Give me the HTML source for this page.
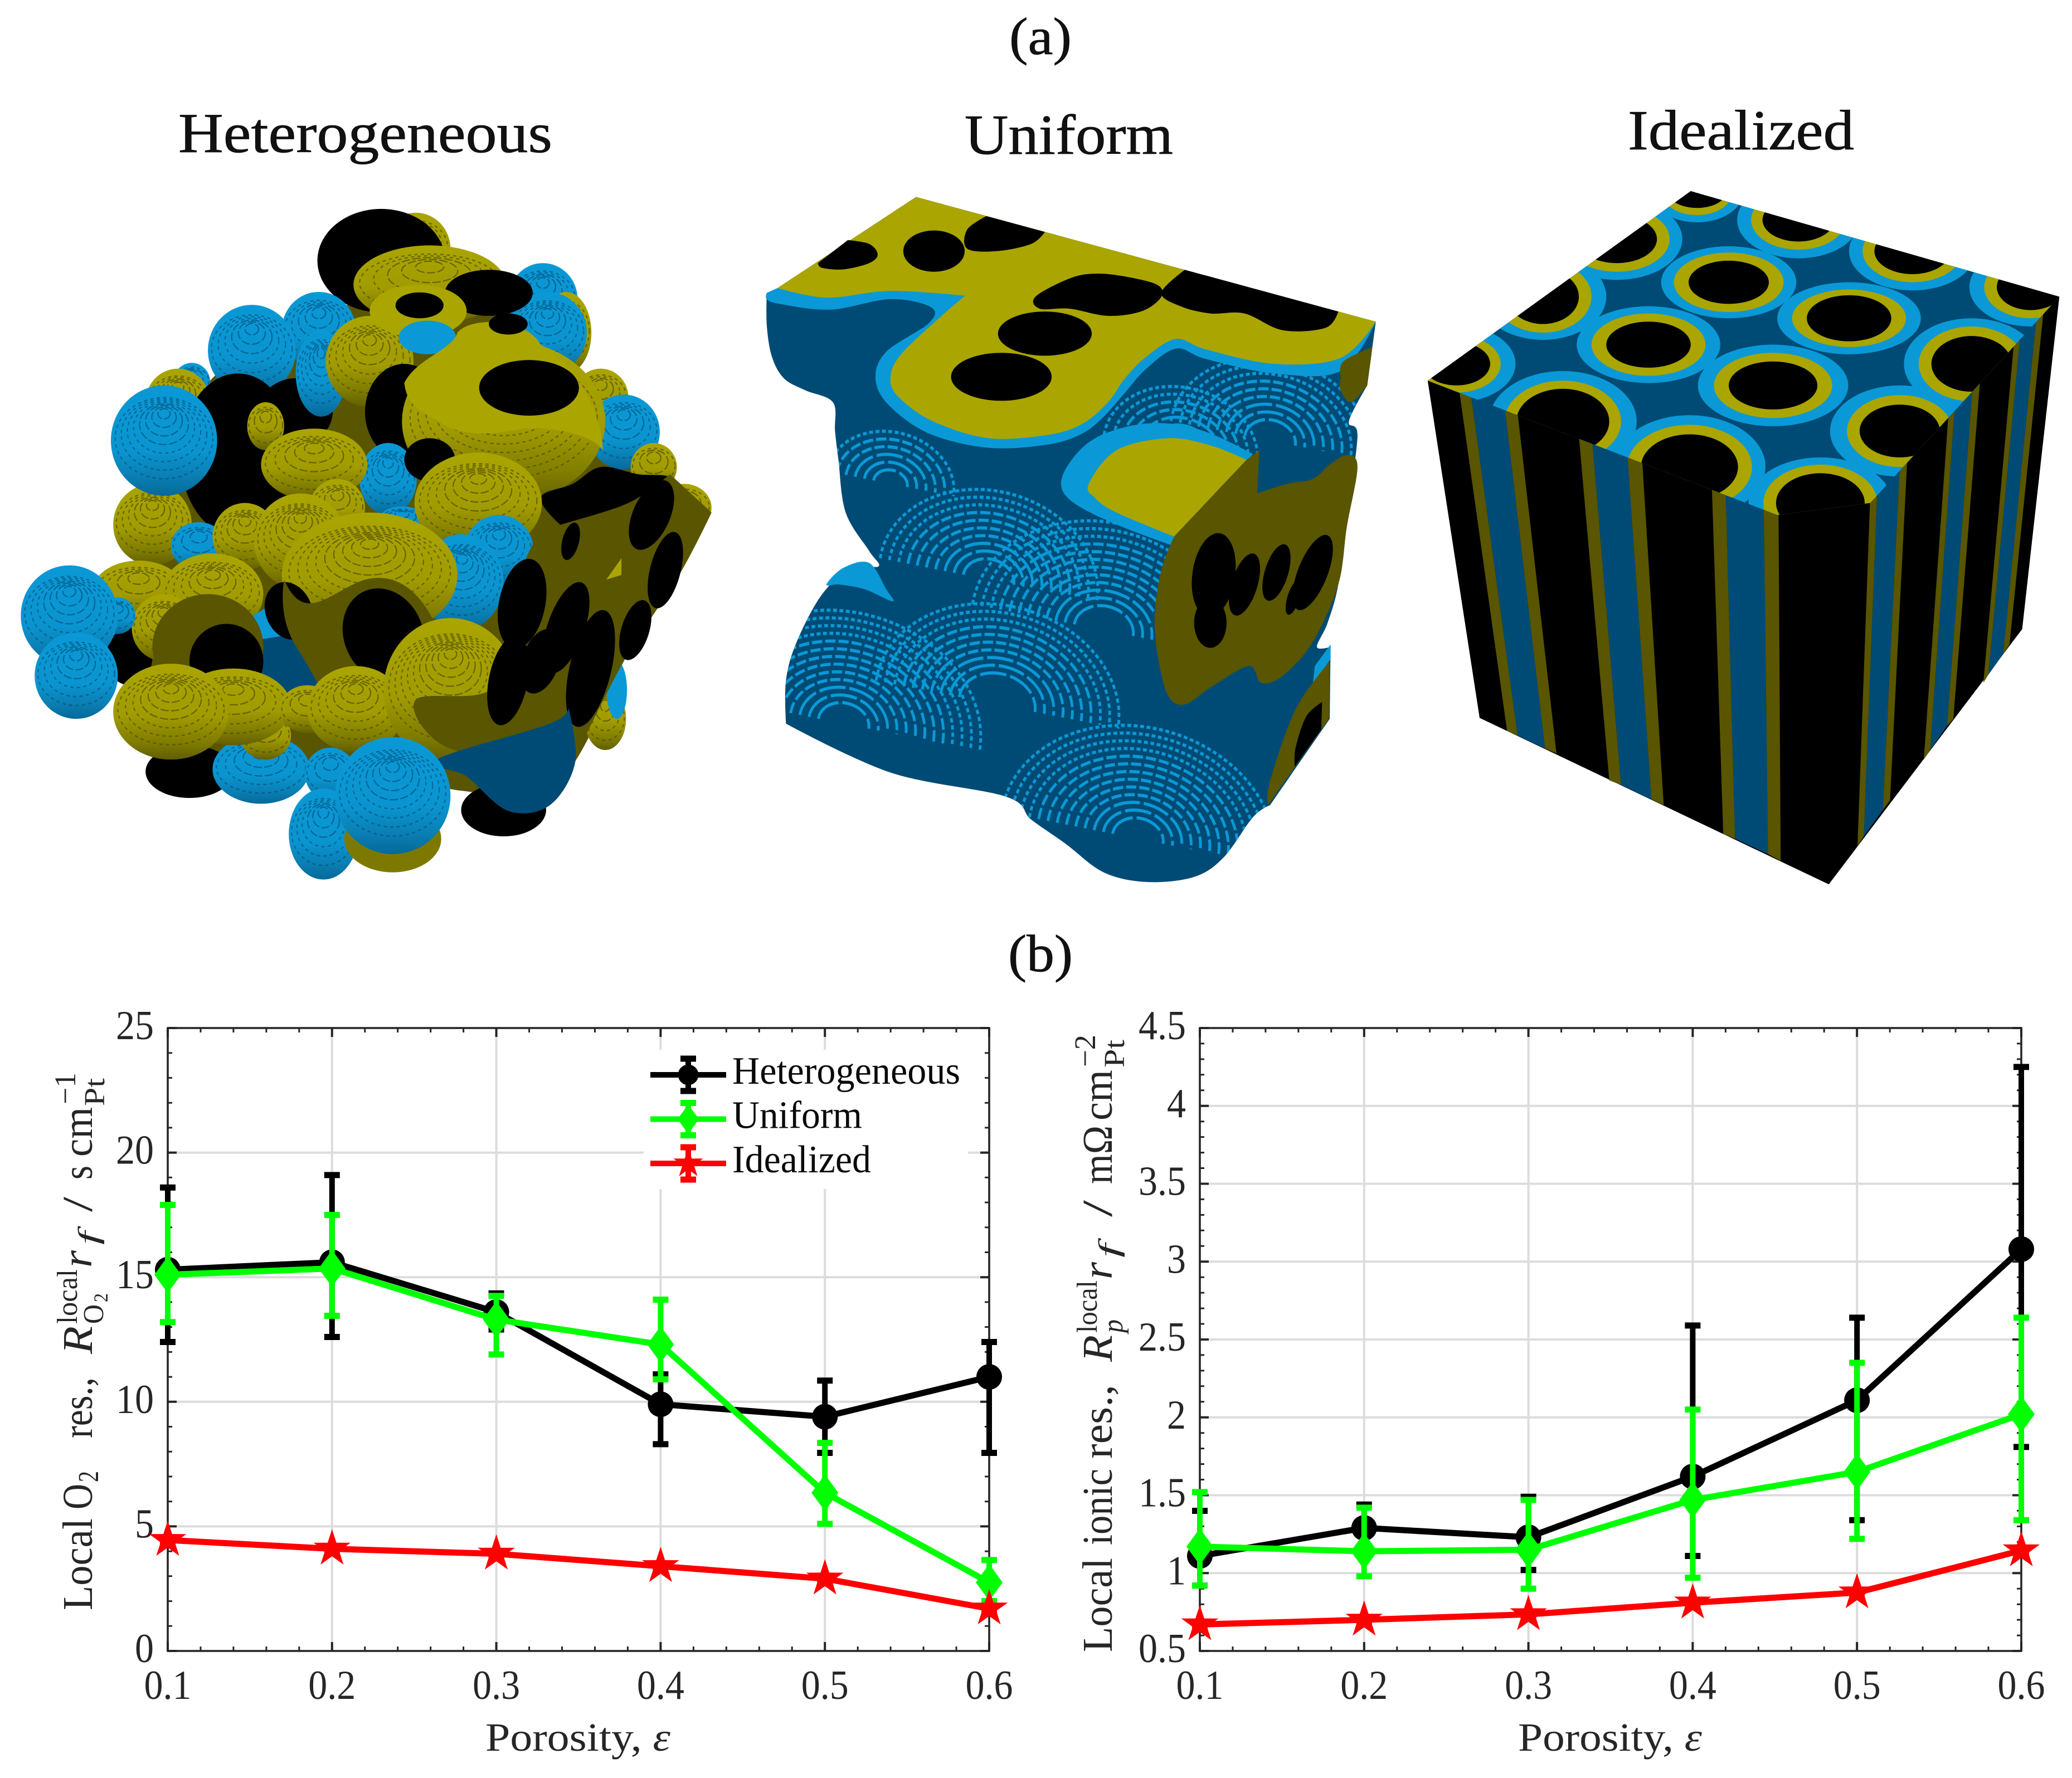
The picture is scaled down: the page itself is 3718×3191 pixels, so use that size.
<!DOCTYPE html>
<html lang="en"><head><meta charset="utf-8"><title>Porous electrode structures and local resistances</title>
<style>
html,body{margin:0;padding:0;background:#fff}
#page{display:block}
text{font-family:"Liberation Serif",serif;fill:#262626}
.title{fill:#111;stroke:#111;stroke-width:.8}
.sp.b{fill:url(#gB)}.sp.o{fill:url(#gO)}
.k{fill:#000}.fo{fill:#aaa500}.do{fill:#595500}.lb{fill:#0a99d6}.db{fill:#004b75}
</style></head><body>
<svg id="page" xmlns="http://www.w3.org/2000/svg" width="3718" height="3191" viewBox="0 0 3718 3191">
<defs>
<linearGradient id="gB" x1="0" y1="0" x2="0" y2="1"><stop offset="0" stop-color="#0a99d6"/><stop offset=".6" stop-color="#0a94cf"/><stop offset=".82" stop-color="#0a7fb4"/><stop offset="1" stop-color="#06699a"/></linearGradient>
<linearGradient id="gO" x1="0" y1="0" x2="0" y2="1"><stop offset="0" stop-color="#aaa500"/><stop offset=".55" stop-color="#a09b00"/><stop offset=".82" stop-color="#807c00"/><stop offset="1" stop-color="#625e00"/></linearGradient>
<clipPath id="cubeTop"><polygon points="665,50 1538,270 1090,700 870,725 42,445"/></clipPath>
<clipPath id="uClip"><use href="#uBody"/></clipPath>
</defs>
<rect x="0" y="0" width="3718" height="3191" fill="#fff"/>

<text class="title" x="1811" y="97" font-size="94" textLength="112" lengthAdjust="spacingAndGlyphs">(a)</text>
<text class="title" x="320" y="273" font-size="102" textLength="671" lengthAdjust="spacingAndGlyphs">Heterogeneous</text>
<text class="title" x="1731" y="276" font-size="102" textLength="374" lengthAdjust="spacingAndGlyphs">Uniform</text>
<text class="title" x="2921" y="268" font-size="102" textLength="406" lengthAdjust="spacingAndGlyphs">Idealized</text>
<text class="title" x="1809" y="1743" font-size="94" textLength="116" lengthAdjust="spacingAndGlyphs">(b)</text>

<!-- Heterogeneous voxel structure -->
<svg x="0" y="300" width="1300" height="1350" viewBox="0 0 1568 1568" preserveAspectRatio="none">
<path class="do sm" d="M450,450L700,300L1100,270L1300,480L1480,720L1350,1030L1200,1290L1000,1300L800,1250L500,1230L300,1180L280,950L350,800L320,700"/>
<g>
<circle class="sp o" cx="900" cy="170" r="75"/>
<ellipse class="k" cx="825" cy="195" rx="138" ry="108"/>
<ellipse class="sp o" cx="930" cy="245" rx="165" ry="82"/>
<circle class="sp b" cx="1175" cy="275" r="75"/>
<ellipse class="sp o" cx="1225" cy="345" rx="55" ry="85"/>
<circle class="sp b" cx="1185" cy="345" r="85"/>
<ellipse class="k" cx="1058" cy="262" rx="95" ry="48"/>
<circle class="sp b" cx="690" cy="340" r="80"/>
<circle class="sp b" cx="545" cy="382" r="95"/>
<circle class="sp b" cx="415" cy="448" r="40"/>
<circle class="sp o" cx="385" cy="490" r="70"/>
<ellipse class="k" cx="515" cy="600" rx="125" ry="170"/>
<ellipse class="k" cx="640" cy="510" rx="80" ry="70"/>
<circle class="sp o" cx="330" cy="745" r="85"/>
<circle class="sp b" cx="355" cy="570" r="115"/>
<ellipse class="sp b" cx="695" cy="430" rx="55" ry="90"/>
</g>
<g>
<circle class="sp o" cx="800" cy="405" r="95"/>
<ellipse class="fo" cx="905" cy="300" rx="105" ry="55"/>
<ellipse class="lb" cx="925" cy="355" rx="62" ry="35"/>
<ellipse class="k" cx="908" cy="288" rx="52" ry="27"/>
<ellipse class="k" cx="875" cy="510" rx="85" ry="100"/>
<circle class="sp o" cx="1300" cy="480" r="60"/>
<circle class="sp b" cx="1350" cy="552" r="78"/>
<circle class="sp o" cx="1415" cy="625" r="50"/>
<ellipse class="sp o" cx="1090" cy="530" rx="220" ry="170"/>
<path class="fo" d="M875,450C900,400 980,380 990,345C1020,310 1140,315 1170,370C1240,410 1300,500 1305,590C1280,555 1190,540 1130,545C1060,560 990,560 950,530C900,505 880,490 875,450Z"/>
<ellipse class="k" cx="1145" cy="460" rx="108" ry="58"/>
<ellipse class="k" cx="1100" cy="327" rx="42" ry="22"/>
<path class="k sm" d="M1170,690L1240,660L1300,625L1380,640L1455,650L1445,720L1420,780L1380,820L1310,800L1230,760"/>
<ellipse class="sp b" cx="840" cy="650" rx="62" ry="75"/>
<ellipse class="sp b" cx="870" cy="735" rx="50" ry="28"/>
<ellipse class="k" cx="930" cy="610" rx="55" ry="45"/>
<ellipse class="sp o" cx="1035" cy="700" rx="138" ry="105"/>
<ellipse class="sp o" cx="575" cy="540" rx="40" ry="50"/>
<ellipse class="sp o" cx="680" cy="620" rx="115" ry="75"/>
</g>
<g>
<ellipse class="sp b" cx="430" cy="790" rx="60" ry="50"/>
<circle class="sp b" cx="1080" cy="800" r="75"/>
<ellipse class="sp b" cx="1000" cy="865" rx="90" ry="100"/>
<circle class="sp o" cx="730" cy="710" r="60"/>
<circle class="sp o" cx="530" cy="770" r="70"/>
<circle class="sp o" cx="650" cy="780" r="100"/>
<ellipse class="sp o" cx="800" cy="850" rx="190" ry="130"/>
<ellipse class="k" cx="280" cy="1020" rx="50" ry="60"/>
<ellipse class="sp o" cx="300" cy="885" rx="100" ry="65"/>
<ellipse class="sp o" cx="460" cy="890" rx="110" ry="85"/>
<circle class="sp o" cx="355" cy="960" r="70"/>
<circle class="sp b" cx="255" cy="935" r="38"/>
<circle class="sp b" cx="150" cy="935" r="105"/>
<circle class="sp b" cx="165" cy="1060" r="90"/>
<path class="db" d="M505,960L590,910L690,1080L660,1150L545,1110Z"/>
<path class="lb" d="M505,960L590,910L625,975L560,985Z"/>
<ellipse class="db" cx="430" cy="1060" rx="85" ry="55"/>
<ellipse class="do" cx="450" cy="1000" rx="120" ry="110"/>
<ellipse class="k" cx="490" cy="1030" rx="80" ry="78"/>
<ellipse class="k" cx="625" cy="925" rx="50" ry="62" transform="rotate(-25 625 925)"/>
<path class="do" d="M615,860C660,960 720,880 790,860C870,840 930,900 965,1010C900,1070 800,1100 720,1070C640,1030 600,950 615,860Z"/>
<ellipse class="k" cx="830" cy="975" rx="85" ry="100" transform="rotate(-28 830 975)"/>
</g>
<g>
<ellipse class="k" cx="410" cy="1260" rx="95" ry="55"/>
<ellipse class="sp b" cx="565" cy="1255" rx="105" ry="72"/>
<ellipse class="sp o" cx="575" cy="1185" rx="55" ry="50"/>
<ellipse class="sp o" cx="505" cy="1125" rx="125" ry="80"/>
<ellipse class="sp o" cx="370" cy="1135" rx="125" ry="100"/>
<ellipse class="sp o" cx="665" cy="1130" rx="60" ry="50"/>
<ellipse class="sp o" cx="770" cy="1130" rx="105" ry="90"/>
<ellipse class="sp o" cx="975" cy="1090" rx="145" ry="150"/>
<ellipse class="sp o" cx="1310" cy="1150" rx="45" ry="65"/>
<ellipse class="lb" cx="1335" cy="1090" rx="22" ry="60"/>
</g>
<g>
<ellipse class="sp o" cx="1480" cy="710" rx="60" ry="50"/>
<path class="do sm" d="M1120,860L1170,760L1215,745L1360,700L1450,640L1450,640L1540,720L1540,720L1470,850L1350,1030L1240,1240L1240,1240L1200,1225L1100,1240L950,1200L900,1110L1060,1090L1100,960"/>
<g class="k">
<ellipse cx="1130" cy="910" rx="50" ry="95" transform="rotate(12 1130 910)"/>
<ellipse cx="1225" cy="960" rx="40" ry="100" transform="rotate(20 1225 960)"/>
<ellipse cx="1100" cy="1070" rx="42" ry="95" transform="rotate(12 1100 1070)"/>
<ellipse cx="1170" cy="1030" rx="40" ry="70" transform="rotate(20 1170 1030)"/>
<ellipse cx="1278" cy="1045" rx="45" ry="125" transform="rotate(14 1278 1045)"/>
<ellipse cx="1375" cy="965" rx="30" ry="65" transform="rotate(18 1375 965)"/>
<ellipse cx="1440" cy="840" rx="33" ry="82" transform="rotate(15 1440 840)"/>
<ellipse cx="1410" cy="725" rx="40" ry="78" transform="rotate(25 1410 725)"/>
<ellipse cx="1235" cy="780" rx="18" ry="40" transform="rotate(15 1235 780)"/>
</g>
<polygon class="fo" points="1312,860 1345,815 1345,850"/>
</g>
<g>
<ellipse class="k" cx="1090" cy="1340" rx="92" ry="55"/>
<path class="db sm" d="M945,1235L1190,1160L1230,1125L1230,1125L1245,1240L1190,1330L1100,1342L1010,1270"/>
<circle class="sp b" cx="715" cy="1265" r="55"/>
<ellipse class="sp b" cx="700" cy="1390" rx="75" ry="95"/>
<ellipse cx="850" cy="1400" rx="105" ry="70" style="fill:#7d7900"/>
<ellipse class="sp b" cx="850" cy="1310" rx="125" ry="122"/>
</g>
</svg>

<!-- Uniform voxel structure -->
<svg x="1330" y="300" width="1200" height="1350" viewBox="0 0 1568 1568" preserveAspectRatio="none">
<path id="uBody" class="db sm" d="M60,262L60,262L60,330L72,395L100,440L150,465L215,490L220,550L228,610L245,720L300,800L322,832L260,835L190,890L130,990L105,1070L105,1160L105,1160L350,1262L620,1312L680,1360L760,1410L850,1470L950,1490L1060,1480L1130,1440L1200,1355L1240,1330L1240,1330L1380,1150L1380,1150L1382,1000L1382,1000L1350,1000L1375,950L1400,870L1420,730L1445,560L1425,530L1468,455L1468,455L1488,322L1488,322"/>
<g id="uArcs" clip-path="url(#uClip)"></g>
<path class="lb sm" d="M200,870L240,835L300,825L340,880L355,905L290,880L230,870"/>
<path class="lb" d="M1345,1040L1382,995L1382,1025L1340,1080Z"/>
<path class="lb sm" d="M60,262L60,262L85,252L85,252L410,62L410,62L1488,322L1488,322L1405,425L1250,430L1090,400L1020,378L950,420L900,470L850,520L800,555L720,578L580,585L440,555L345,495L315,440L340,385L440,325L445,292L350,275L210,297L90,285L60,275"/>
<path class="fo sm" d="M410,62L410,62L1488,322L1488,322L1405,398L1250,410L1090,380L1020,358L950,395L900,440L860,490L800,535L720,558L580,565L450,530L370,480L350,440L375,390L470,310L525,268L525,268L350,258L200,272L85,252L85,252"/>
<g class="k">
<path class="sm" d="M180,200L180,200L250,152L250,152L300,160L320,182L300,200L240,213L190,210"/>
<ellipse cx="452" cy="175" rx="72" ry="43"/>
<path class="sm" d="M530,130L575,102L575,102L712,135L712,135L680,160L600,175L530,170"/>
<ellipse cx="610" cy="437" rx="118" ry="50"/>
<ellipse cx="712" cy="347" rx="110" ry="46"/>
<path class="sm" d="M690,270L770,232L830,222L900,228L975,245L985,270L940,300L860,310L770,295L700,295"/>
<path class="sm" d="M985,262L1040,214L1040,214L1400,301L1400,301L1370,335L1270,340L1180,305L1100,305L1030,290"/>
</g>
<path class="lb sm" d="M750,660L775,610L830,565L920,538L1010,535L1100,555L1200,598L1200,598L1015,790L1015,790L880,745L780,700"/>
<path class="fo sm" d="M815,660L880,590L1000,565L1100,580L1185,610L1185,610L1015,770L1015,770L880,720L830,690"/>
<path class="do sm" d="M1015,770L1015,770L1185,610L1185,610L1215,590L1215,590L1210,680L1210,680L1280,660L1340,650L1380,620L1420,600L1445,625L1420,750L1400,870L1340,990L1270,1060L1220,1075L1190,1040L1100,1085L1040,1120L1000,1100L975,1010L970,930L985,840"/>
<g class="k">
<ellipse cx="1108" cy="850" rx="50" ry="88" transform="rotate(10 1108 850)"/>
<ellipse cx="1100" cy="950" rx="38" ry="52"/>
<ellipse cx="1180" cy="870" rx="30" ry="68" transform="rotate(20 1180 870)"/>
<ellipse cx="1255" cy="845" rx="27" ry="62" transform="rotate(20 1255 845)"/>
<ellipse cx="1340" cy="845" rx="34" ry="85" transform="rotate(25 1340 845)"/>
<ellipse cx="1295" cy="897" rx="14" ry="38" transform="rotate(20 1295 897)"/>
</g>
<path class="do sm" d="M1405,440L1412,405L1480,375L1480,375L1468,455L1468,455L1430,490L1405,465"/>
<path class="do sm" d="M1380,1030L1380,1030L1378,1150L1378,1150L1235,1330L1235,1330L1240,1280L1300,1130"/>
<path class="k sm" d="M1362,1115L1362,1115L1360,1172L1360,1172L1298,1250L1298,1250L1300,1210L1325,1145"/>
</svg>

<!-- Idealized voxel structure -->
<svg x="2530" y="300" width="1188" height="1350" viewBox="0 0 1568 1568" preserveAspectRatio="none">
<polygon class="k" points="665,50 1538,270 1450,963 992,1495 165,1148 42,445"/>
<g>
<polygon class="do" points="117,467 145,477 255,1185 230,1175"/>
<polygon class="db" points="145,477 225,505 320,1212 255,1185"/>
<polygon class="do" points="225,505 255,512 347,1222 320,1212"/>
<polygon class="do" points="400,560 432,572 500,1288 472,1278"/>
<polygon class="db" points="432,572 515,600 572,1318 500,1288"/>
<polygon class="do" points="515,600 550,610 601,1330 572,1318"/>
<polygon class="do" points="715,665 748,680 770,1400 742,1390"/>
<polygon class="db" points="748,680 838,712 848,1432 770,1400"/>
<polygon class="do" points="838,712 873,722 878,1446 848,1432"/>
</g>
<g>
<polygon class="do" points="1090,688 1107,670 1075,1395 1060,1415"/>
<polygon class="db" points="1107,670 1160,625 1120,1340 1075,1395"/>
<polygon class="do" points="1160,625 1178,605 1137,1320 1120,1340"/>
<polygon class="do" points="1275,520 1290,505 1232,1215 1217,1235"/>
<polygon class="db" points="1290,505 1332,465 1272,1165 1232,1215"/>
<polygon class="do" points="1332,465 1350,448 1287,1150 1272,1165"/>
<polygon class="do" points="1430,370 1445,355 1370,1058 1358,1075"/>
<polygon class="db" points="1445,355 1483,320 1405,1015 1370,1058"/>
<polygon class="do" points="1483,320 1500,305 1420,995 1405,1015"/>
</g>
<g clip-path="url(#cubeTop)">
<polygon class="db" points="665,50 1538,270 1090,700 870,725 42,445"/>
<g class="lb">
<ellipse cx="755" cy="240" rx="160" ry="75"/><ellipse cx="1040" cy="315" rx="170" ry="75"/><ellipse cx="565" cy="370" rx="170" ry="80"/><ellipse cx="860" cy="455" rx="178" ry="85"/>
<ellipse cx="920" cy="110" rx="145" ry="80"/><ellipse cx="1190" cy="175" rx="150" ry="82"/><ellipse cx="1470" cy="250" rx="145" ry="82"/>
<ellipse cx="680" cy="50" rx="110" ry="65"/><ellipse cx="490" cy="150" rx="155" ry="85"/><ellipse cx="315" cy="270" rx="150" ry="90"/><ellipse cx="110" cy="410" rx="140" ry="80"/>
<ellipse cx="362" cy="530" rx="175" ry="105"/><ellipse cx="662" cy="625" rx="180" ry="108"/><ellipse cx="972" cy="700" rx="170" ry="95"/><ellipse cx="1160" cy="550" rx="165" ry="95"/><ellipse cx="1330" cy="410" rx="160" ry="95"/>
</g>
<g class="fo">
<ellipse cx="755" cy="240" rx="130" ry="62"/><ellipse cx="1040" cy="315" rx="135" ry="60"/><ellipse cx="565" cy="370" rx="135" ry="65"/><ellipse cx="860" cy="455" rx="140" ry="68"/>
<ellipse cx="920" cy="110" rx="112" ry="62"/><ellipse cx="1190" cy="175" rx="118" ry="65"/><ellipse cx="1470" cy="250" rx="110" ry="65"/>
<ellipse cx="680" cy="50" rx="85" ry="50"/><ellipse cx="490" cy="150" rx="125" ry="68"/><ellipse cx="315" cy="270" rx="115" ry="75"/><ellipse cx="110" cy="410" rx="105" ry="60"/>
<ellipse cx="362" cy="530" rx="138" ry="85"/><ellipse cx="662" cy="625" rx="148" ry="88"/><ellipse cx="972" cy="700" rx="135" ry="80"/><ellipse cx="1160" cy="550" rx="125" ry="75"/><ellipse cx="1330" cy="410" rx="125" ry="78"/>
</g>
<g class="k">
<ellipse cx="755" cy="240" rx="95" ry="45"/><ellipse cx="1040" cy="315" rx="100" ry="48"/><ellipse cx="565" cy="370" rx="100" ry="48"/><ellipse cx="860" cy="455" rx="105" ry="50"/>
<ellipse cx="920" cy="110" rx="85" ry="45"/><ellipse cx="1190" cy="175" rx="90" ry="48"/><ellipse cx="1470" cy="250" rx="80" ry="48"/>
<ellipse cx="680" cy="50" rx="70" ry="35"/><ellipse cx="490" cy="150" rx="95" ry="50"/><ellipse cx="315" cy="270" rx="85" ry="57"/><ellipse cx="110" cy="410" rx="80" ry="45"/>
<ellipse cx="362" cy="530" rx="110" ry="68"/><ellipse cx="662" cy="625" rx="115" ry="68"/><ellipse cx="972" cy="700" rx="105" ry="62"/><ellipse cx="1160" cy="550" rx="95" ry="55"/><ellipse cx="1330" cy="410" rx="95" ry="58"/>
</g>
</g>
</svg>

<g id="chart-left"></g>
<g id="chart-right"></g>

<g font-size="76">
<text transform="translate(165,2890) rotate(-90)" textLength="165" lengthAdjust="spacingAndGlyphs">Local</text>
<text transform="translate(165,2709) rotate(-90)" textLength="46" lengthAdjust="spacingAndGlyphs">O</text>
<text transform="translate(176,2660) rotate(-90)" font-size="52" textLength="20" lengthAdjust="spacingAndGlyphs">2</text>
<text transform="translate(165,2581) rotate(-90)" textLength="109" lengthAdjust="spacingAndGlyphs">res.,</text>
<text transform="translate(165,2430) rotate(-90)" font-style="italic" textLength="50" lengthAdjust="spacingAndGlyphs">R</text>
<text transform="translate(138,2376) rotate(-90)" font-size="52" textLength="98" lengthAdjust="spacingAndGlyphs">local</text>
<text transform="translate(185,2376) rotate(-90)" font-size="52" textLength="35" lengthAdjust="spacingAndGlyphs">O</text>
<text transform="translate(193,2337) rotate(-90)" font-size="36" textLength="16" lengthAdjust="spacingAndGlyphs">2</text>
<text transform="translate(164,2275) rotate(-90)" font-style="italic" textLength="31" lengthAdjust="spacingAndGlyphs">r</text>
<text transform="translate(176,2234) rotate(-90)" font-size="52" font-style="italic" textLength="24" lengthAdjust="spacingAndGlyphs">f</text>
<text transform="translate(165,2175) rotate(-90)" textLength="27" lengthAdjust="spacingAndGlyphs">/</text>
<text transform="translate(165,2117) rotate(-90)" textLength="25" lengthAdjust="spacingAndGlyphs">s</text>
<text transform="translate(165,2076) rotate(-90)" textLength="89" lengthAdjust="spacingAndGlyphs">cm</text>
<text transform="translate(135,1982) rotate(-90)" font-size="54" textLength="57" lengthAdjust="spacingAndGlyphs">−1</text>
<text transform="translate(187,1985) rotate(-90)" font-size="52" textLength="50" lengthAdjust="spacingAndGlyphs">Pt</text>
</g>
<g font-size="76">
<text transform="translate(1995,2965) rotate(-90)" textLength="169" lengthAdjust="spacingAndGlyphs">Local</text>
<text transform="translate(1995,2773) rotate(-90)" textLength="137" lengthAdjust="spacingAndGlyphs">ionic</text>
<text transform="translate(1995,2618) rotate(-90)" textLength="133" lengthAdjust="spacingAndGlyphs">res.,</text>
<text transform="translate(1995,2444) rotate(-90)" font-style="italic" textLength="48" lengthAdjust="spacingAndGlyphs">R</text>
<text transform="translate(1968,2392) rotate(-90)" font-size="52" textLength="94" lengthAdjust="spacingAndGlyphs">local</text>
<text transform="translate(2014,2392) rotate(-90)" font-size="52" font-style="italic" textLength="24" lengthAdjust="spacingAndGlyphs">p</text>
<text transform="translate(1995,2296) rotate(-90)" font-style="italic" textLength="31" lengthAdjust="spacingAndGlyphs">r</text>
<text transform="translate(2007,2257) rotate(-90)" font-size="52" font-style="italic" textLength="25" lengthAdjust="spacingAndGlyphs">f</text>
<text transform="translate(1995,2184) rotate(-90)" textLength="30" lengthAdjust="spacingAndGlyphs">/</text>
<text transform="translate(1995,2125) rotate(-90)" textLength="105" lengthAdjust="spacingAndGlyphs">mΩ</text>
<text transform="translate(1995,2011) rotate(-90)" textLength="91" lengthAdjust="spacingAndGlyphs">cm</text>
<text transform="translate(1965,1915) rotate(-90)" font-size="54" textLength="58" lengthAdjust="spacingAndGlyphs">−2</text>
<text transform="translate(2017,1916) rotate(-90)" font-size="52" textLength="50" lengthAdjust="spacingAndGlyphs">Pt</text>
</g>
</svg>

<script>
// ---- chart data ----
const porosity = [0.1, 0.2, 0.3, 0.4, 0.5, 0.6];
const xTickLabels = ['0.1', '0.2', '0.3', '0.4', '0.5', '0.6'];
const o2TickLabels = ['0', '5', '10', '15', '20', '25'];
const ionicTickLabels = ['0.5', '1', '1.5', '2', '2.5', '3', '3.5', '4', '4.5'];

const o2HetValues = [15.3, 15.6, 13.6, 9.9, 9.4, 11.0];
const o2HetLow = [12.4, 12.6, 12.9, 8.3, 7.95, 7.95];
const o2HetHigh = [18.6, 19.1, 14.35, 11.1, 10.85, 12.4];
const o2UniValues = [15.1, 15.35, 13.3, 12.3, 6.35, 2.75];
const o2UniLow = [13.2, 13.45, 11.9, 10.9, 5.1, 2.0];
const o2UniHigh = [17.9, 17.5, 14.25, 14.1, 8.35, 3.65];
const o2IdeValues = [4.45, 4.1, 3.9, 3.4, 2.9, 1.7];
const o2IdeLow = [4.4, 4.05, 3.85, 3.35, 2.85, 1.65];
const o2IdeHigh = [4.5, 4.15, 3.95, 3.45, 2.95, 1.75];

const ionicHetValues = [1.11, 1.29, 1.23, 1.62, 2.11, 3.08];
const ionicHetLow = [0.92, 1.14, 1.02, 1.11, 1.34, 1.81];
const ionicHetHigh = [1.40, 1.44, 1.49, 2.59, 2.64, 4.25];
const ionicUniValues = [1.17, 1.14, 1.15, 1.47, 1.65, 2.02];
const ionicUniLow = [0.92, 0.98, 0.90, 0.97, 1.22, 1.34];
const ionicUniHigh = [1.52, 1.42, 1.47, 2.05, 2.35, 2.64];
const ionicIdeValues = [0.67, 0.70, 0.735, 0.81, 0.875, 1.145];
const ionicIdeLow = [0.66, 0.69, 0.725, 0.80, 0.865, 1.135];
const ionicIdeHigh = [0.68, 0.71, 0.745, 0.82, 0.885, 1.155];

const legendLabels = ['Heterogeneous', 'Uniform', 'Idealized'];

// ---- drawing ----
const NS = 'http://www.w3.org/2000/svg';
function mk(parent, tag, attrs, txt) {
  const el = document.createElementNS(NS, tag);
  for (const k in attrs) el.setAttribute(k, attrs[k]);
  if (txt !== undefined) el.textContent = txt;
  parent.appendChild(el);
  return el;
}
const TOP = 1845, BOTTOM = 2963;
const AXIS = '#262626', GRID = '#dcdcdc';

function drawMarker(g, kind, cx, cy, color, k) {
  let el;
  if (kind === 'circle') {
    el = mk(g, 'circle', {cx: cx, cy: cy, r: 23 * k, fill: color});
  } else if (kind === 'diamond') {
    const w = 24 * k, h = 33 * k;
    el = mk(g, 'polygon', {points: [cx, cy - h, cx + w, cy, cx, cy + h, cx - w, cy].join(','), fill: color});
  } else {
    const pts = [];
    for (let i = 0; i < 10; i++) {
      const r = (i % 2 ? 13.5 : 35) * k, a = -Math.PI / 2 + i * Math.PI / 5;
      pts.push((cx + r * Math.cos(a)).toFixed(1) + ',' + (cy + r * Math.sin(a)).toFixed(1));
    }
    el = mk(g, 'polygon', {points: pts.join(' '), fill: color});
  }
  
  
}

function drawErrorBar(g, x, yLo, yHi, color) {
  const bar = mk(g, 'path', {d: 'M' + x + ',' + yLo + 'V' + yHi, stroke: color, 'stroke-width': 10, fill: 'none'});
  
  
  const caps = mk(g, 'path', {d: 'M' + (x - 14) + ',' + yLo + 'H' + (x + 14) + 'M' + (x - 14) + ',' + yHi + 'H' + (x + 14), stroke: color, 'stroke-width': 11, fill: 'none'});
  
  
}

function drawSeries(root, name, sx, sy, xs, vals, lows, highs, color, kind) {
  const g = mk(root, 'g', {});
  
  
  xs.forEach((x, i) => drawErrorBar(g, sx(x), sy(lows[i]), sy(highs[i]), color));
  const line = mk(g, 'polyline', {points: xs.map((x, i) => sx(x) + ',' + sy(vals[i])).join(' '), fill: 'none', stroke: color, 'stroke-width': 11, 'stroke-linejoin': 'miter'});
  
  
  xs.forEach((x, i) => drawMarker(g, kind, sx(x), sy(vals[i]), color, 1));
}

function labelWidth(l) {
  return l.split('').reduce((w, c) => w + (c === '.' ? 17 : 34), 0);
}

function drawAxes(root, x0, x1, sx, sy, xLabels, yLabels, xMinorStep, yMinorStep, yMin, yMax, yStep, xTitleX, xTitleLen) {
  const grid = mk(root, 'g', {});
  
  
  xLabels.forEach(l => {
    const x = sx(parseFloat(l));
    const ln = mk(grid, 'line', {x1: x, x2: x, y1: TOP, y2: BOTTOM, stroke: GRID, 'stroke-width': 4});
    
    
  });
  yLabels.forEach(l => {
    const y = sy(parseFloat(l));
    const ln = mk(grid, 'line', {x1: x0, x2: x1, y1: y, y2: y, stroke: GRID, 'stroke-width': 4});
    
    
  });
  const ticks = mk(root, 'g', {stroke: AXIS, fill: 'none'});
  
  
  let dMajor = '', dMinor = '';
  for (let v = 0.1; v < 0.6005; v += xMinorStep) {
    const major = Math.abs(v * 10 - Math.round(v * 10)) < 1e-6;
    const x = sx(v).toFixed(1), len = major ? 16 : 8;
    const d = 'M' + x + ',' + BOTTOM + 'v' + (-len) + 'M' + x + ',' + TOP + 'v' + len;
    if (major) dMajor += d; else dMinor += d;
  }
  for (let v = yMin; v < yMax + 1e-6; v += yMinorStep) {
    const major = Math.abs((v - yMin) / yStep - Math.round((v - yMin) / yStep)) < 1e-6;
    const y = sy(v).toFixed(1), len = major ? 16 : 8;
    const d = 'M' + x0 + ',' + y + 'h' + len + 'M' + x1 + ',' + y + 'h' + (-len);
    if (major) dMajor += d; else dMinor += d;
  }
  mk(ticks, 'path', {d: dMajor, 'stroke-width': 4});
  mk(ticks, 'path', {d: dMinor, 'stroke-width': 3});
  const box = mk(root, 'rect', {x: x0, y: TOP, width: x1 - x0, height: BOTTOM - TOP, fill: 'none', stroke: AXIS, 'stroke-width': 3.5});
  
  
  xLabels.forEach(l => {
    const t = mk(root, 'text', {x: sx(parseFloat(l)) - labelWidth(l) / 2, y: 3049, 'font-size': 74, textLength: labelWidth(l), lengthAdjust: 'spacingAndGlyphs'}, l);
    
    
  });
  yLabels.forEach(l => {
    const t = mk(root, 'text', {x: x0 - 25 - labelWidth(l), y: sy(parseFloat(l)) + 20, 'font-size': 74, textLength: labelWidth(l), lengthAdjust: 'spacingAndGlyphs'}, l);
    
    
  });
  const title = mk(root, 'text', {x: xTitleX, y: 3142, 'font-size': 72, textLength: xTitleLen, lengthAdjust: 'spacingAndGlyphs'});
  
  
  mk(title, 'tspan', {}, 'Porosity, ');
  mk(title, 'tspan', {'font-style': 'italic'}, 'ε');
}

function xScale(x0, x1) { return v => x0 + (v - 0.1) / 0.5 * (x1 - x0); }
function yScale(lo, hi) { return v => BOTTOM - (v - lo) / (hi - lo) * (BOTTOM - TOP); }

// left chart
const leftRoot = document.getElementById('chart-left');
const sxL = xScale(301, 1775), syL = yScale(0, 25);
drawAxes(leftRoot, 301, 1775, sxL, syL, xTickLabels, o2TickLabels, 0.02, 1, 0, 25, 5, 871, 332);

// legend sits above the grid but beneath the series
const legend = mk(leftRoot, 'g', {});


const legendBg = mk(legend, 'rect', {x: 1155, y: 1884, width: 582, height: 250, fill: '#fff'});



drawSeries(leftRoot, 'heterogeneous-series', sxL, syL, porosity, o2HetValues, o2HetLow, o2HetHigh, '#000000', 'circle');
drawSeries(leftRoot, 'uniform-series', sxL, syL, porosity, o2UniValues, o2UniLow, o2UniHigh, '#00ff00', 'diamond');
drawSeries(leftRoot, 'idealized-series', sxL, syL, porosity, o2IdeValues, o2IdeLow, o2IdeHigh, '#ff0000', 'star');

const legendColors = ['#000000', '#00ff00', '#ff0000'];
const legendKinds = ['circle', 'diamond', 'star'];
const legendWidths = [409, 233, 249];
legendLabels.forEach((label, i) => {
  const cy = 1929 + i * 79.5;
  const entry = mk(legend, 'g', {});
  
  
  drawErrorBar(entry, 1235, cy + 29, cy - 29, legendColors[i]);
  const ln = mk(entry, 'line', {x1: 1167, x2: 1303, y1: cy, y2: cy, stroke: legendColors[i], 'stroke-width': 10});
  
  
  drawMarker(entry, legendKinds[i], 1235, cy, legendColors[i], 0.8);
  const t = mk(entry, 'text', {x: 1314, y: cy + 16, 'font-size': 70, textLength: legendWidths[i], lengthAdjust: 'spacingAndGlyphs', style: 'fill:#0a0a0a'}, label);
  
  
});

// right chart
const rightRoot = document.getElementById('chart-right');
const sxR = xScale(2153, 3627), syR = yScale(0.5, 4.5);
drawAxes(rightRoot, 2153, 3627, sxR, syR, xTickLabels, ionicTickLabels, 0.02, 0.1, 0.5, 4.5, 0.5, 2724, 330);
drawSeries(rightRoot, 'heterogeneous-series', sxR, syR, porosity, ionicHetValues, ionicHetLow, ionicHetHigh, '#000000', 'circle');
drawSeries(rightRoot, 'uniform-series', sxR, syR, porosity, ionicUniValues, ionicUniLow, ionicUniHigh, '#00ff00', 'diamond');
drawSeries(rightRoot, 'idealized-series', sxR, syR, porosity, ionicIdeValues, ionicIdeLow, ionicIdeHigh, '#ff0000', 'star');

// ---- voxel-structure decoration (not chart data) ----
// round polygon outlines into closed Catmull-Rom curves; a doubled point stays a corner
document.querySelectorAll('path.sm').forEach(path => {
  const n = path.getAttribute('d').match(/-?\d+(\.\d+)?/g).map(Number);
  const p = [];
  for (let i = 0; i < n.length; i += 2) p.push([n[i], n[i + 1]]);
  const L = p.length;
  const same = (u, v) => u[0] === v[0] && u[1] === v[1];
  let d = 'M' + p[0][0] + ',' + p[0][1];
  for (let i = 0; i < L; i++) {
    const a = p[(i - 1 + L) % L], b = p[i], c = p[(i + 1) % L], e = p[(i + 2) % L];
    if (same(b, c)) continue;
    const t1 = same(a, b) ? 0 : 1, t2 = same(c, e) ? 0 : 1;
    d += 'C' + (b[0] + t1 * (c[0] - a[0]) / 6).toFixed(1) + ',' + (b[1] + t1 * (c[1] - a[1]) / 6).toFixed(1) + ' ' +
      (c[0] - t2 * (e[0] - b[0]) / 6).toFixed(1) + ',' + (c[1] - t2 * (e[1] - b[1]) / 6).toFixed(1) + ' ' + c[0] + ',' + c[1];
  }
  path.setAttribute('d', d + 'Z');
});

// terrace rings on each rounded particle, around its upper pole
document.querySelectorAll('.sp').forEach(shape => {
  const cx = +shape.getAttribute('cx'), cy = +shape.getAttribute('cy');
  const rx = +(shape.getAttribute('rx') || shape.getAttribute('r'));
  const ry = +(shape.getAttribute('ry') || shape.getAttribute('r'));
  const color = shape.classList.contains('b') ? '#004b75' : '#4a4600';
  const g = document.createElementNS(NS, 'g');
  
  
  g.setAttribute('opacity', '0.65');
  const count = Math.max(3, Math.floor(ry / 14));
  for (let k = 0; k < count; k++) {
    const f = (k + 1) / count * 0.92;
    mk(g, 'ellipse', {cx: cx, cy: cy - 0.55 * ry + 0.55 * f * ry, rx: f * rx, ry: 0.8 * f * ry, fill: 'none', stroke: color, 'stroke-width': 2.6, 'stroke-dasharray': k < count / 2 ? '18 5' : '7 7'});
  }
  shape.parentNode.insertBefore(g, shape.nextSibling);
});

// stair-step terrace arcs on the uniform structure's curved walls
const arcLayer = document.getElementById('uArcs');
function dome(cx, cy, r0, r1) {
  for (let r = r0, i = 0; r <= r1; r += 22, i++) {
    const dash = i < 3 ? '62 9' : (r < (r0 + r1) * 0.62 ? '24 7' : '9 6');
    mk(arcLayer, 'path', {d: 'M' + (cx - r) + ',' + cy + 'A' + r + ',' + (0.72 * r) + ' 0 0 1 ' + (cx + r) + ',' + cy, fill: 'none', stroke: '#0a99d6', 'stroke-width': 6.5, 'stroke-dasharray': dash, transform: 'rotate(10 ' + cx + ' ' + cy + ')'});
  }
}
dome(240, 1160, 60, 330);
dome(350, 660, 40, 170);
dome(580, 860, 60, 270);
dome(600, 1120, 90, 300);
dome(850, 965, 70, 330);
dome(930, 1400, 60, 340);
dome(1240, 570, 60, 240);
dome(1030, 590, 50, 190);
</script>
</body></html>
